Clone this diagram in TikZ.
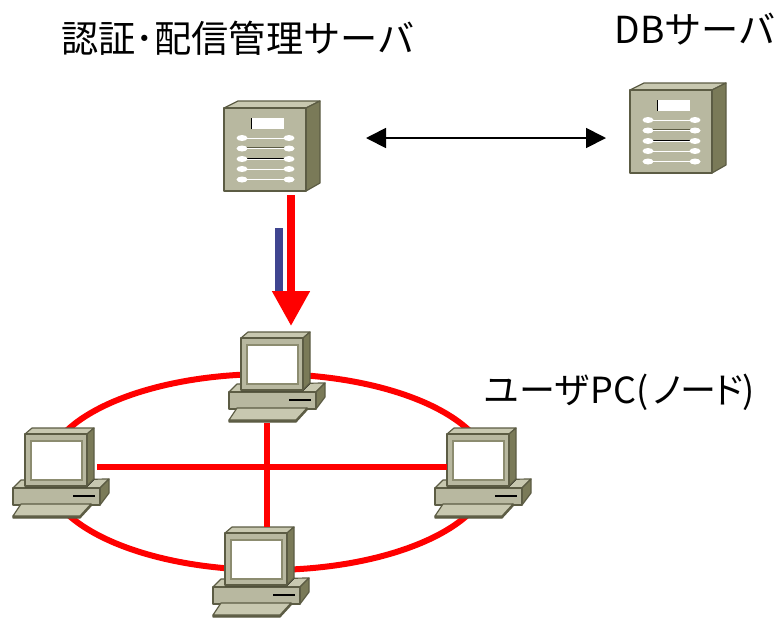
\documentclass[tikz,border=0pt]{standalone}
\usepackage{fontspec}
\setmainfont{Noto Sans CJK JP}
\usetikzlibrary{arrows.meta}
\definecolor{boxface}{HTML}{B8B8A0}
\definecolor{boxtop}{HTML}{C8C8B0}
\definecolor{boxside}{HTML}{7A7A58}
\definecolor{boxedge}{HTML}{5C5C44}
\definecolor{bezel}{HTML}{8C8C70}
\definecolor{barblue}{HTML}{3F4590}
\tikzset{
  solid box/.style={draw=boxedge,line width=0.6pt,line join=round},
  ring line/.style={draw=red,line width=3pt},
  title text/.style={inner sep=0pt,font=\fontsize{18.6}{18.6}\selectfont},
  server/.pic={
    \fill [solid box,fill=boxtop] (0,0) -- (14,-7) -- (96,-7) -- (82,0) -- cycle;
    \fill [solid box,fill=boxside] (82,0) -- (96,-7) -- (96,75) -- (82,83) -- cycle;
    \fill [solid box,fill=boxface] (0,0) rectangle (82,83);
    \fill [white] (27,10) rectangle (60,21);
    \draw [black,line width=0.5pt] (27,10) -- (27,21);
    \foreach \y/\c in {30/boxface,40.5/boxedge,51/black,61/boxface,71.5/boxface} {
      \draw [white,line width=0.6pt] (18,\y) -- (65,\y);
      \draw [\c,line width=0.5pt] (18,\y-1) -- (65,\y-1);
      \fill [white] (18,\y) ellipse [x radius=5.5,y radius=3];
      \fill [white] (65,\y) ellipse [x radius=5.5,y radius=3];
    }
    \coordinate (-e) at (96,30);
    \coordinate (-w) at (0,48);
    \coordinate (-s) at (67,87);
  },
  pc/.pic={
    \fill [solid box,fill=boxtop] (-12,54) -- (-4,46) -- (84,45) -- (75,54) -- cycle;
    \fill [solid box,fill=boxside] (75,54) -- (84,45) -- (84,59) -- (75,71) -- cycle;
    \fill [solid box,fill=boxface] (-12,54) rectangle (75,71);
    \draw [black,line width=0.8pt] (48,62) -- (70,62);
    \fill [solid box,fill=boxedge] (-12,82) -- (55,82) -- (66,70) -- (66,72) -- (55,84) -- (-12,84) -- cycle;
    \fill [solid box,fill=boxtop] (-4,70) -- (66,70) -- (55,82) -- (-12,82) -- cycle;
    \fill [black] (0,50) -- (62,50) -- (69,44) -- (69,46) -- (62,53) -- (0,53) -- cycle;
    \fill [solid box,fill=boxtop] (0,0) -- (7,-6) -- (69,-6) -- (62,0) -- cycle;
    \fill [solid box,fill=boxside] (62,0) -- (69,-6) -- (69,45) -- (62,52) -- cycle;
    \fill [solid box,fill=boxface] (0,0) rectangle (62,52);
    \fill [bezel] (5,6) rectangle (58,47);
    \fill [white] (7,8) rectangle (56,45);
    \coordinate (-e) at (72,32.5);
    \coordinate (-w) at (0,32.5);
    \coordinate (-n) at (50,-6);
    \coordinate (-s) at (26,85);
    \coordinate (-top) at (42,-6);
  },
}
\begin{document}
\begin{tikzpicture}[x=0.5pt,y=-0.5pt]
\useasboundingbox (0,0) rectangle (779,618);
% network
\draw [ring line] (268,472) ellipse [x radius=222,y radius=98];
\path (25,434) pic (pcLeft) {pc};
\path (447,434) pic (pcRight) {pc};
\path (241,338) pic (pcTop) {pc};
\path (225,533) pic (pcBottom) {pc};
\draw [ring line] (pcLeft-e) -- (pcRight-w);
\draw [ring line] (pcTop-s) -- (pcTop-s |- pcBottom-top);
% servers
\path (224,108) pic (srvAuth) {server};
\path (630,90) pic (srvDb) {server};
\draw [black,line width=0.9pt,{Triangle[length=10pt,width=10pt]}-{Triangle[length=10pt,width=10pt]},shorten <=23pt,shorten >=12pt] (srvAuth-e) -- (srvDb-w);
\coordinate (barTop) at (279,228);
\coordinate (barEnd) at (279,292);
\draw [barblue,line width=4pt] (barTop) -- (barEnd);
\draw [red,line width=4pt,-{Triangle[length=17.5pt,width=18pt]},shorten >=3pt] (srvAuth-s) -- (pcTop-n);
% labels
\node [title text,anchor=west] (lblAuth) at (61,38) {認証･配信管理サーバ};
\node [title text,anchor=west] (lblDb) at (614,29) {DBサーバ};
\node [title text,anchor=west,font=\fontsize{18}{18}\selectfont] (lblPc) at (483,392) {ユーザPC(\kern1ptノ\kern-3ptー\kern-3ptド\kern-2pt)};
\end{tikzpicture}
\end{document}
